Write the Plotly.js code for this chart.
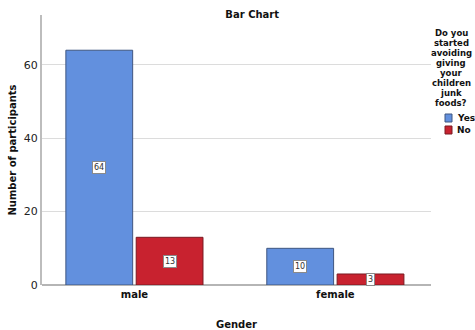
<!DOCTYPE html>
<html>
<head>
<meta charset="utf-8">
<script src="https://cdn.plot.ly/plotly-3.0.1.min.js"></script>
<style>html,body{margin:0;padding:0;background:#fff;}#chart{width:475px;height:330px;}</style>
</head>
<body>
<div id="chart"></div>
<script>
const categories = ["male", "female"];
const seriesNames = ["Yes", "No"];
const yesValues = [64, 10];
const noValues = [13, 3];
const yTicks = [0, 20, 40, 60];
const legendTitleLines = ["Do you", "started", "avoiding", "giving", "your", "children", "junk", "foods?"];

const FONT = "DejaVu Sans, Verdana, sans-serif";
const W = 475, H = 330;
const M = { l: 42, r: 44, t: 15, b: 45 };
const PW = W - M.l - M.r, PH = H - M.t - M.b;
const px2x = p => (p - M.l) / PW;
const px2y = p => (H - M.b - p) / PH;

const BARGAP = 0.3;
const seriesData = [yesValues, noValues];
const fills = ["#6290de", "#c8222f"];
const edges = ["#3f5680", "#7a1a22"];

const traces = seriesData.map((vals, i) => ({
  type: "bar",
  name: seriesNames[i],
  x: categories,
  y: vals,
  marker: { color: fills[i], line: { color: edges[i], width: 1 } },
  hoverinfo: "x+y+name"
}));

const slot = (1 - BARGAP) / seriesData.length;
const annotations = [];
seriesData.forEach((vals, i) => {
  const off = -((1 - BARGAP) / 2) + slot * (i + 0.5);
  vals.forEach((v, j) => {
    annotations.push({
      x: j + off, y: v / 2, xref: "x", yref: "y",
      text: String(v), showarrow: false,
      bgcolor: "#ffffff", bordercolor: "#8a8a8a", borderwidth: 1, borderpad: 1,
      font: { family: FONT, size: 8, color: "#333" }
    });
  });
});

// legend drawn in the right margin
const legX = 451;
legendTitleLines.forEach((line, k) => {
  annotations.push({
    xref: "paper", yref: "paper", x: px2x(legX), y: px2y(33 + k * 10),
    xanchor: "center", yanchor: "middle", showarrow: false,
    text: "<b>" + line + "</b>",
    font: { family: FONT, size: 8.5, color: "#111" }
  });
});
const shapes = [];
seriesNames.forEach((name, i) => {
  const cy = 118 + i * 12;
  shapes.push({
    type: "rect", xref: "paper", yref: "paper",
    x0: px2x(445), x1: px2x(452), y0: px2y(cy - 4), y1: px2y(cy + 4),
    fillcolor: fills[i], line: { color: edges[i], width: 1 }
  });
  annotations.push({
    xref: "paper", yref: "paper", x: px2x(455), y: px2y(cy),
    xanchor: "left", yanchor: "middle", showarrow: false,
    text: "<b>" + name + "</b>",
    font: { family: FONT, size: 9, color: "#111" }
  });
});

const layout = {
  width: W, height: H,
  margin: { l: M.l, r: M.r, t: M.t, b: M.b, autoexpand: false },
  paper_bgcolor: "#fff", plot_bgcolor: "#fff",
  font: { family: FONT, color: "#111" },
  title: { text: "<b>Bar Chart</b>", x: 0.531, xanchor: "center", y: 0.955, yanchor: "middle", font: { size: 10, family: FONT, color: "#111" } },
  barmode: "group", bargap: BARGAP, bargroupgap: 0.05,
  showlegend: false,
  xaxis: {
    type: "category", range: [-0.46, 1.476],
    tickfont: { size: 10, family: FONT, color: "#111", weight: "bold" },
    showgrid: false, zeroline: false, showline: false, ticks: "", ticklabelstandoff: 2,
    title: { text: "<b>Gender</b>", font: { size: 10, family: FONT, color: "#111" }, standoff: 26 }
  },
  yaxis: {
    range: [0, 73.6], tickvals: yTicks, ticktext: yTicks.map(String),
    tickfont: { size: 11, family: FONT, color: "#222" },
    showgrid: true, gridcolor: "#dcdcdc", gridwidth: 1,
    zeroline: true, zerolinecolor: "#b5b5b5", zerolinewidth: 1.5,
    showline: true, linecolor: "#bdbdbd", linewidth: 2, ticks: "",
    title: { text: "<b>Number of participants</b>", font: { size: 10, family: FONT, color: "#111" }, standoff: 5 }
  },
  annotations: annotations,
  shapes: shapes
};

Plotly.newPlot("chart", traces, layout, { displayModeBar: false, staticPlot: true });
</script>
</body>
</html>
